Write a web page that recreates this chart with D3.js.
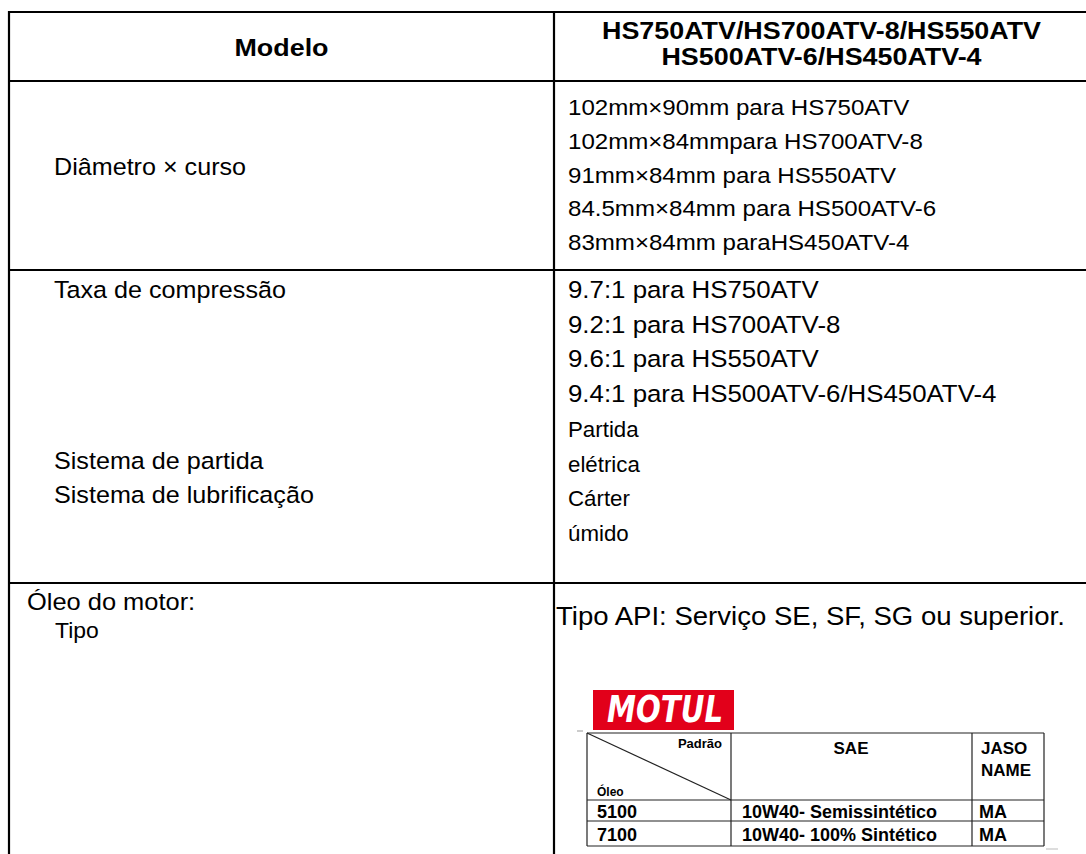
<!DOCTYPE html>
<html>
<head>
<meta charset="utf-8">
<script src="https://cdn.jsdelivr.net/npm/d3@7"></script>
<style>
  html, body { margin: 0; padding: 0; background: #fff; }
  svg { display: block; }
</style>
</head>
<body>
<svg id="chart" width="1086" height="854"></svg>
<script>
// ---------- data ----------
const headerLeft = "Modelo";
const headerRight = ["HS750ATV/HS700ATV-8/HS550ATV", "HS500ATV-6/HS450ATV-4"];
const boreLabel = "Diâmetro × curso";
const boreValues = [
  "102mm×90mm para HS750ATV",
  "102mm×84mmpara HS700ATV-8",
  "91mm×84mm para HS550ATV",
  "84.5mm×84mm para HS500ATV-6",
  "83mm×84mm paraHS450ATV-4"
];
const row3Labels = ["Taxa de compressão", "Sistema de partida", "Sistema de lubrificação"];
const compressionValues = [
  "9.7:1 para HS750ATV",
  "9.2:1 para HS700ATV-8",
  "9.6:1 para HS550ATV",
  "9.4:1 para HS500ATV-6/HS450ATV-4"
];
const startLubeValues = ["Partida", "elétrica", "Cárter", "úmido"];
const oilLabels = ["Óleo do motor:", "Tipo"];
const oilSpec = "Tipo API: Serviço SE, SF, SG ou superior.";
const motulHeader = ["Padrão", "Óleo", "SAE", ["JASO", "NAME"]];
const motulOils = ["5100", "7100"];
const motulSAE = ["10W40- Semissintético", "10W40- 100% Sintético"];
const motulJASO = ["MA", "MA"];

// ---------- drawing ----------
const svg = d3.select("#chart");
const FONT = "'Liberation Sans', Arial, Helvetica, sans-serif";
svg.append("rect").attr("width", 1086).attr("height", 854).attr("fill", "#fff");

// main grid
const xCol = d3.scaleOrdinal().domain(["left", "div", "right"]).range([9, 554, 1089]);
const yRow = d3.scaleOrdinal().domain(["top", "h", "r2", "r3", "bottom"]).range([12, 81, 270, 583, 860]);

const grid = svg.append("g").attr("stroke", "#000").attr("stroke-width", 2.2);
["top", "h", "r2", "r3"].forEach(r => {
  grid.append("line").attr("x1", xCol("left") - 1).attr("x2", 1090)
    .attr("y1", yRow(r)).attr("y2", yRow(r));
});
["left", "div"].forEach(c => {
  grid.append("line").attr("x1", xCol(c)).attr("x2", xCol(c))
    .attr("y1", yRow("top") - 1).attr("y2", yRow("bottom"));
});

function txt(g, s, x, y, size, opts = {}) {
  const sx = opts.sx || 1;
  return g.append("text")
    .attr("transform", `translate(${x},${y}) scale(${sx},1)`)
    .attr("font-family", FONT).attr("font-size", size)
    .attr("font-weight", opts.bold ? "bold" : "normal")
    .attr("text-anchor", opts.anchor || "start")
    .attr("fill", opts.fill || "#000")
    .text(s);
}

const T = svg.append("g");
// header
const HEAD = {bold: true, anchor: "middle", sx: 1.12};
txt(T, headerLeft, (xCol("left") + xCol("div")) / 2, 56, 24, HEAD);
const hy = d3.scaleLinear().domain([0, 1]).range([39, 65]);
headerRight.forEach((s, i) => txt(T, s, (xCol("div") + xCol("right")) / 2, hy(i), 24, HEAD));

// left labels
const LAB = {sx: 1.07};
txt(T, boreLabel, 54, 175, 23.5, LAB);
const y3 = d3.scaleLinear().domain([0, 7]).range([298, 541]);
txt(T, row3Labels[0], 54, y3(0), 23.5, LAB);
txt(T, row3Labels[1], 54, y3(5) - 3, 23.5, LAB);
txt(T, row3Labels[2], 54, y3(6) - 3, 23.5, LAB);

// row 2 values
const y2 = d3.scaleLinear().domain([0, 4]).range([115, 250]);
boreValues.forEach((s, i) => txt(T, s, 568, y2(i), 22.5, {sx: 1.07}));

// row 3 values
compressionValues.forEach((s, i) => txt(T, s, 568, y3(i), 23.5, {sx: 1.1}));
startLubeValues.forEach((s, i) => txt(T, s, 568, y3(i + 4), 23, {sx: 0.97}));

// row 4
txt(T, oilLabels[0], 27, 610, 24, {sx: 1.06});
txt(T, oilLabels[1], 55, 638, 22.5, {sx: 1.02});
txt(T, oilSpec, 556, 625, 26, {sx: 1.06});

// MOTUL logo
const logo = svg.append("g");
logo.append("rect").attr("x", 593).attr("y", 690).attr("width", 141).attr("height", 40).attr("fill", "#e2001a");
logo.append("text").attr("x", 607).attr("y", 722)
  .attr("font-family", "'DejaVu Sans', sans-serif").attr("font-weight", "900")
  .attr("font-style", "italic").attr("font-size", 37).attr("fill", "#fff")
  .attr("textLength", 116).attr("lengthAdjust", "spacingAndGlyphs")
  .text("MOTUL");

// small table
const mx = d3.scaleOrdinal().domain(["l", "c1", "c2", "r"]).range([587, 731, 972, 1044]);
const my = d3.scaleOrdinal().domain(["t", "h", "r1", "b"]).range([733, 800, 821, 846]);
const mg = svg.append("g").attr("stroke", "#222").attr("stroke-width", 1.2);
["t", "h", "r1", "b"].forEach(r => mg.append("line").attr("x1", mx("l")).attr("x2", mx("r")).attr("y1", my(r)).attr("y2", my(r)));
["l", "c1", "c2", "r"].forEach(c => mg.append("line").attr("x1", mx(c)).attr("x2", mx(c)).attr("y1", my("t")).attr("y2", my("b")));
mg.append("line").attr("x1", mx("l")).attr("y1", my("t")).attr("x2", mx("c1")).attr("y2", my("h"));
svg.append("line").attr("x1", 577).attr("x2", 583).attr("y1", 731).attr("y2", 731).attr("stroke", "#999").attr("stroke-width", 1);
svg.append("line").attr("x1", 1046).attr("x2", 1058).attr("y1", 849).attr("y2", 849).attr("stroke", "#bbb").attr("stroke-width", 1);

const M = svg.append("g");
txt(M, motulHeader[0], 722, 748, 13, {bold: true, anchor: "end"});
txt(M, motulHeader[1], 597, 796, 12, {bold: true});
txt(M, motulHeader[2], 851, 754, 17, {bold: true, anchor: "middle"});
motulHeader[3].forEach((s, i) => txt(M, s, 981, 754 + i * 21.5, 17, {bold: true}));
const mrow = d3.scaleLinear().domain([0, 1]).range([818, 841]);
motulOils.forEach((s, i) => txt(M, s, 597, mrow(i), 18, {bold: true}));
motulSAE.forEach((s, i) => txt(M, s, 742, mrow(i), 18, {bold: true}));
motulJASO.forEach((s, i) => txt(M, s, 979, mrow(i), 18, {bold: true}));
</script>
</body>
</html>
